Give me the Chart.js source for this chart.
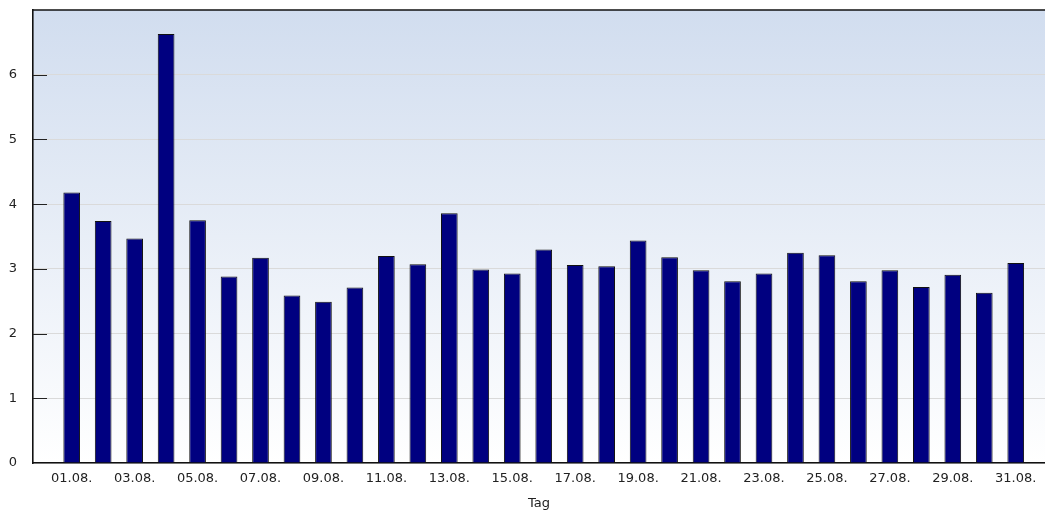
<!DOCTYPE html>
<html>
<head>
<meta charset="utf-8">
<script src="https://cdn.jsdelivr.net/npm/chart.js@4.4.1/dist/chart.umd.min.js"></script>
<style>
  html, body { margin: 0; padding: 0; background: #ffffff; }
  #wrap { width: 1045px; height: 514px; position: relative; }
</style>
</head>
<body>
<div id="wrap"><canvas id="c" width="1045" height="514"></canvas></div>
<script>
const days = ['01.08.','02.08.','03.08.','04.08.','05.08.','06.08.','07.08.','08.08.','09.08.','10.08.',
              '11.08.','12.08.','13.08.','14.08.','15.08.','16.08.','17.08.','18.08.','19.08.','20.08.',
              '21.08.','22.08.','23.08.','24.08.','25.08.','26.08.','27.08.','28.08.','29.08.','30.08.','31.08.'];
const values = [4.18, 3.74, 3.47, 6.63, 3.75, 2.88, 3.17, 2.59, 2.49, 2.71,
                3.20, 3.07, 3.86, 2.99, 2.93, 3.30, 3.06, 3.04, 3.44, 3.18,
                2.98, 2.81, 2.93, 3.25, 3.21, 2.81, 2.98, 2.72, 2.91, 2.63, 3.09];
const labelDays = [1,3,5,7,9,11,13,15,17,19,21,23,25,27,29,31];
const yTicks = [0,1,2,3,4,5,6];
const xTitle = 'Tag';

const FONT = "'DejaVu Sans', sans-serif";

const framePlugin = {
  id: 'frame',
  beforeDraw(chart) {
    const {ctx, chartArea: a} = chart;
    ctx.save();
    const g = ctx.createLinearGradient(0, a.top, 0, a.bottom);
    g.addColorStop(0, '#d1ddef');
    g.addColorStop(1, '#ffffff');
    ctx.fillStyle = g;
    ctx.fillRect(a.left, a.top, a.right - a.left, a.bottom - a.top);
    ctx.restore();
  },
  afterDraw(chart) {
    const {ctx, chartArea: a, scales} = chart;
    ctx.save();
    ctx.strokeStyle = '#222';
    ctx.lineWidth = 1;
    yTicks.forEach(v => {
      if (v === 0) return;
      const y = Math.round(scales.y.getPixelForValue(v)) + 0.5;
      ctx.beginPath();
      ctx.moveTo(a.left, y);
      ctx.lineTo(a.left + 14, y);
      ctx.stroke();
    });
    ctx.strokeStyle = '#111';
    ctx.lineWidth = 1.6;
    ctx.beginPath();
    ctx.moveTo(a.left, a.top);
    ctx.lineTo(a.right, a.top);
    ctx.stroke();
    ctx.restore();
  }
};

new Chart(document.getElementById('c'), {
  type: 'bar',
  data: {
    datasets: [{
      data: days.map((d, i) => ({x: i + 1, y: values[i]})),
      backgroundColor: '#000080',
      borderColor: '#111111',
      borderWidth: 1,
      barPercentage: 0.53,
      categoryPercentage: 1.0
    }]
  },
  options: {
    responsive: false,
    animation: false,
    layout: { padding: { top: 10, right: 0, left: 0, bottom: 0 } },
    plugins: { legend: { display: false }, tooltip: { enabled: false } },
    scales: {
      x: {
        type: 'linear',
        min: -0.23,
        max: 31.93,
        offset: false,
        grid: { display: false, drawTicks: false },
        border: { display: true, color: '#111', width: 1.6 },
        afterBuildTicks: (s) => { s.ticks = labelDays.map(v => ({value: v})); },
        afterFit: (s) => { s.height = 51; s.paddingLeft = 0; s.paddingRight = 0; },
        ticks: {
          autoSkip: false,
          maxRotation: 0,
          padding: 8,
          color: '#222',
          font: { family: FONT, size: 13 },
          callback: (v) => days[v - 1]
        },
        title: {
          display: true,
          text: xTitle,
          color: '#222',
          font: { family: FONT, size: 13 },
          padding: { top: 4, bottom: 3 }
        }
      },
      y: {
        min: 0,
        max: 7,
        afterBuildTicks: (s) => { s.ticks = yTicks.map(v => ({value: v})); },
        afterFit: (s) => { s.width = 33; s.paddingTop = 0; s.paddingBottom = 0; },
        grid: { color: '#dadada', lineWidth: 1, drawTicks: false },
        border: { display: true, color: '#111', width: 1.6 },
        ticks: {
          padding: 16,
          color: '#222',
          font: { family: FONT, size: 13 }
        }
      }
    }
  },
  plugins: [framePlugin]
});
</script>
</body>
</html>
